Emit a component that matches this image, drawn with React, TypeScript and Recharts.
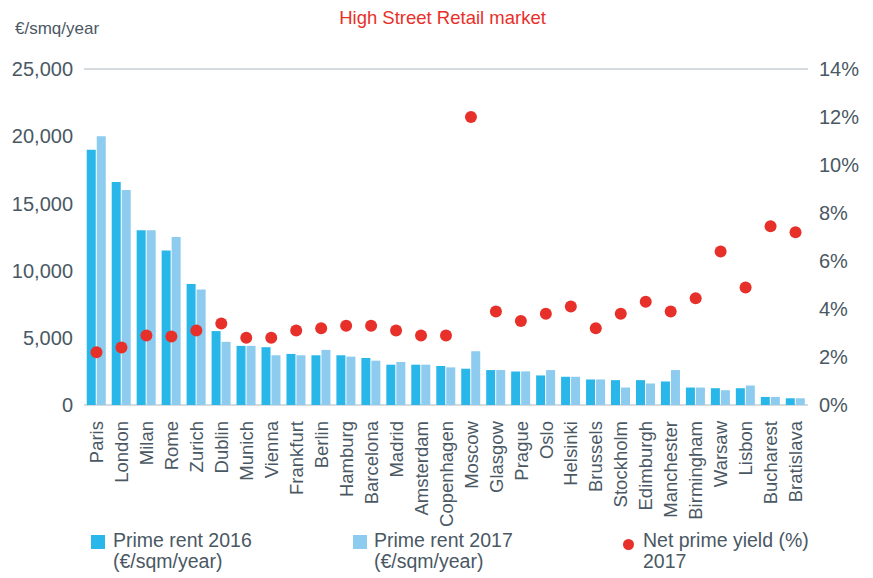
import React from "react";
import {
  Bar,
  CartesianGrid,
  ComposedChart,
  Line,
  XAxis,
  YAxis,
} from "recharts";

const cities = [
  "Paris", "London", "Milan", "Rome", "Zurich", "Dublin", "Munich", "Vienna",
  "Frankfurt", "Berlin", "Hamburg", "Barcelona", "Madrid", "Amsterdam",
  "Copenhagen", "Moscow", "Glasgow", "Prague", "Oslo", "Helsinki", "Brussels",
  "Stockholm", "Edimburgh", "Manchester", "Birmingham", "Warsaw", "Lisbon",
  "Bucharest", "Bratislava",
];

const rent2016 = [
  19000, 16600, 13000, 11500, 9000, 5500, 4400, 4300, 3800, 3700, 3700, 3500,
  3000, 3000, 2900, 2700, 2600, 2500, 2200, 2100, 1900, 1850, 1850, 1750, 1300,
  1250, 1250, 600, 500,
];

const rent2017 = [
  20000, 16000, 13000, 12500, 8600, 4700, 4400, 3700, 3700, 4100, 3600, 3300,
  3200, 3000, 2800, 4000, 2600, 2500, 2600, 2100, 1900, 1300, 1600, 2600, 1300,
  1100, 1450, 600, 500,
];

const yield2017 = [
  2.2, 2.4, 2.9, 2.85, 3.1, 3.4, 2.8, 2.8, 3.1, 3.2, 3.3, 3.3, 3.1, 2.9, 2.9,
  12.0, 3.9, 3.5, 3.8, 4.1, 3.2, 3.8, 4.3, 3.9, 4.45, 6.4, 4.9, 7.45, 7.2,
];

const rentTicks = [0, 5000, 10000, 15000, 20000, 25000];
const yieldTicks = [0, 2, 4, 6, 8, 10, 12, 14];

const data = cities.map((city, i) => ({
  city,
  rent2016: rent2016[i],
  rent2017: rent2017[i],
  yield: yield2017[i],
}));

const FONT = "'Liberation Sans', Arial, Helvetica, sans-serif";
const TEXT = "#4a5864";
const BLUE = "#29b6e9";
const LIGHT = "#8dcbef";
const RED = "#e8302a";

function CityTick(props: any) {
  const { x, y, payload } = props;
  return (
    <text
      x={x}
      y={y + 8}
      transform={`rotate(-90, ${x}, ${y + 8})`}
      textAnchor="end"
      dy="0.36em"
      fill={TEXT}
      fontSize={18.5}
      fontFamily={FONT}
    >
      {payload.value}
    </text>
  );
}

const legendText: React.CSSProperties = {
  position: "absolute",
  top: 530,
  fontSize: 19.5,
  lineHeight: "21px",
  color: TEXT,
  fontFamily: FONT,
};

export default function App() {
  return (
    <div
      style={{
        position: "absolute",
        left: 0,
        top: 0,
        width: 873,
        height: 578,
        background: "#fff",
        fontFamily: FONT,
      }}
    >
      <div
        style={{
          position: "absolute",
          top: 7,
          left: 0,
          width: 885,
          textAlign: "center",
          color: RED,
          fontSize: 18.5,
        }}
      >
        High Street Retail market
      </div>
      <div
        style={{
          position: "absolute",
          top: 19,
          left: 15,
          color: TEXT,
          fontSize: 17,
        }}
      >
        €/smq/year
      </div>

      <ComposedChart
        width={873}
        height={578}
        data={data}
        margin={{ top: 69, right: 0, bottom: 63, left: 0 }}
        barCategoryGap="11%"
        barGap={1}
      >
        <CartesianGrid vertical={false} stroke="#c8cfd5" strokeWidth={1.5} />
        <XAxis
          dataKey="city"
          interval={0}
          tickLine={false}
          axisLine={false}
          height={110}
          tick={<CityTick />}
        />
        <YAxis
          yAxisId="rent"
          width={84}
          domain={[0, 25000]}
          ticks={rentTicks}
          tickFormatter={(v: number) => v.toLocaleString("en-US")}
          tickLine={false}
          axisLine={false}
          tickMargin={5}
          tick={{ fill: TEXT, fontSize: 20, fontFamily: FONT }}
        />
        <YAxis
          yAxisId="yield"
          orientation="right"
          width={65}
          domain={[0, 14]}
          ticks={yieldTicks}
          tickFormatter={(v: number) => `${v}%`}
          tickLine={false}
          axisLine={false}
          tickMargin={5}
          tick={{ fill: TEXT, fontSize: 20, fontFamily: FONT }}
        />
        <Bar
          yAxisId="rent"
          dataKey="rent2016"
          fill={BLUE}
          isAnimationActive={false}
        />
        <Bar
          yAxisId="rent"
          dataKey="rent2017"
          fill={LIGHT}
          isAnimationActive={false}
        />
        <Line
          yAxisId="yield"
          dataKey="yield"
          stroke="none"
          dot={{ r: 6, fill: RED, stroke: "none" }}
          activeDot={false}
          isAnimationActive={false}
        />
      </ComposedChart>

      <div
        style={{
          position: "absolute",
          left: 91,
          top: 535,
          width: 14,
          height: 14,
          background: BLUE,
        }}
      />
      <div style={{ ...legendText, left: 113 }}>
        Prime rent 2016
        <br />
        (€/sqm/year)
      </div>

      <div
        style={{
          position: "absolute",
          left: 353,
          top: 535,
          width: 14,
          height: 14,
          background: LIGHT,
        }}
      />
      <div style={{ ...legendText, left: 374 }}>
        Prime rent 2017
        <br />
        (€/sqm/year)
      </div>

      <div
        style={{
          position: "absolute",
          left: 623,
          top: 539,
          width: 11,
          height: 11,
          borderRadius: "50%",
          background: RED,
        }}
      />
      <div style={{ ...legendText, left: 643 }}>
        Net prime yield (%)
        <br />
        2017
      </div>
    </div>
  );
}
